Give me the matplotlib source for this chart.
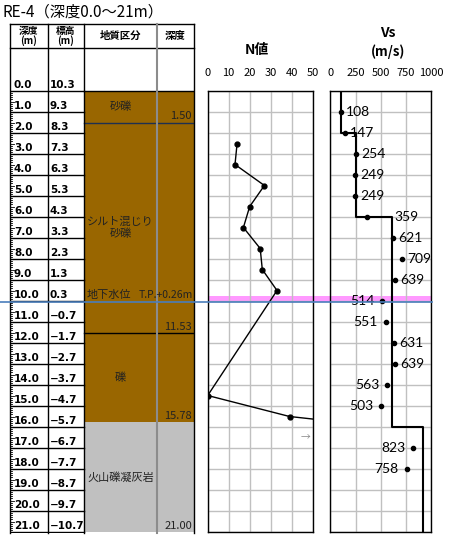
import numpy as np
import matplotlib.pyplot as plt
from matplotlib.patches import Rectangle
from matplotlib.lines import Line2D
from matplotlib.transforms import blended_transform_factory

plt.rcParams['font.family'] = ['Noto Sans CJK JP', 'DejaVu Sans']

# boring RE-4 : depth rows and ground elevation (T.P.)
depth_rows = np.arange(0, 22)
ground_elev = 10.3

# geology column
layer_names = ['砂礫', 'シルト混じり\n砂礫', '礫', '火山礫凝灰岩']
layer_top = [0.0, 1.50, 11.53, 15.78]
layer_bottom = [1.50, 11.53, 15.78, 21.00]
layer_colors = ['#996600', '#996600', '#996600', '#c0c0c0']
water_level = 0.26          # T.P.+0.26m
water_band = [9.75, 10.04]  # depth range shown in pink

# SPT N values (last one is over 50, off the scale)
n_depth = [2.5, 3.5, 4.5, 5.5, 6.5, 7.5, 8.5, 9.5, 14.5, 15.5, 16.5]
n_value = [14, 13, 27, 20, 17, 25, 26, 33, 0, 39, 130]

# PS logging Vs
vs_depth = [1, 2, 3, 4, 5, 6, 7, 8, 9, 10, 11, 12, 13, 14, 15, 17, 18]
vs_value = [108, 147, 254, 249, 249, 359, 621, 709, 639, 514, 551, 631, 639,
            563, 503, 823, 758]

# Vs model layers
vs_layer_top = [0, 2, 6, 16]
vs_layer_bottom = [2, 6, 16, 21]
vs_layer_value = [110, 250, 610, 920]

n_ticks = [0, 10, 20, 30, 40, 50]
vs_ticks = [0, 250, 500, 750, 1000]

W, H = 454, 536
fig = plt.figure(figsize=(W / 100, H / 100), dpi=100)

y0, ppm = 91.0, 21.0   # pixel row of depth 0, pixels per metre


def box(x0, ytop, x1, ybot):
    return [x0 / W, 1 - ybot / H, (x1 - x0) / W, (ybot - ytop) / H]


def dep(py):
    return (py - y0) / ppm


# ---------------- table (depth / elevation / geology) ----------------
tx0, tx1, tx2, tx3, tx4 = 10, 47.5, 84, 157, 194
ax = fig.add_axes(box(tx0, 24, tx4, 533))
ax.set_xlim(tx0, tx4)
ax.set_ylim(dep(533), dep(24))
ax.axis('off')

h_top, h_bot = dep(24), dep(48)

# geology fills
for top, bot, c in zip(layer_top, layer_bottom, layer_colors):
    ax.add_patch(Rectangle((tx2, top), tx4 - tx2, bot - top, fc=c, ec='none'))
for name, top, bot in zip(layer_names, layer_top, layer_bottom):
    ax.text((tx2 + tx3) / 2, (top + bot) / 2, name, ha='center', va='center',
            fontsize=8, color='#222222', linespacing=1.1)
    ax.text(tx4 - 2, bot - 0.06, f'{bot:.2f}', ha='right', va='bottom',
            fontsize=8, color='#222222')

# layer boundaries
ax.plot([tx2, tx4], [0, 0], color='black', lw=1)
ax.plot([tx2, tx4], [layer_top[1]] * 2, color='#1f3050', lw=1)
ax.plot([tx2, tx4], [layer_top[2]] * 2, color='black', lw=1)

# water level text
wl_depth = ground_elev - water_level
ax.text(tx2 + 3, wl_depth - 0.1, '地下水位', ha='left', va='bottom',
        fontsize=8, color='#222222')
ax.text(tx4 - 1, wl_depth - 0.1, 'T.P.+0.26m', ha='right', va='bottom',
        fontsize=7.5, color='#222222')

# header
for yy in (h_top, h_bot):
    ax.plot([tx0, tx4], [yy, yy], color='black', lw=1, clip_on=False)
hy = (h_top + h_bot) / 2
ax.text((tx0 + tx1) / 2, hy, '深度\n(m)', ha='center', va='center',
        fontsize=7, weight='bold', linespacing=1.0)
ax.text((tx1 + tx2) / 2, hy, '標高\n(m)', ha='center', va='center',
        fontsize=7, weight='bold', linespacing=1.0)
ax.text((tx2 + tx3) / 2, hy, '地質区分', ha='center', va='center',
        fontsize=7.5, weight='bold')
ax.text((tx3 + tx4) / 2, hy, '深度', ha='center', va='center',
        fontsize=7.5, weight='bold')

# column lines
ax.plot([tx0, tx0], [h_top, 21.05], color='black', lw=1, clip_on=False)
ax.plot([tx1, tx1], [h_top, 21.05], color='black', lw=1, clip_on=False)
ax.plot([tx2, tx2], [h_top, 21.05], color='black', lw=1, clip_on=False)
ax.plot([tx3, tx3], [h_top, 21.05], color='#8c8c8c', lw=1.5, clip_on=False)
ax.plot([tx4, tx4], [h_top, 21.05], color='black', lw=1, clip_on=False)

# depth rows
for d in depth_rows:
    ax.plot([tx0, tx2], [d, d], color='black', lw=1)
    ax.text(tx0 + 4, d - 0.05, f'{d:.1f}', ha='left', va='bottom',
            fontsize=7.5, weight='bold', family=['DejaVu Sans'])
    el = f'{ground_elev - d:.1f}'.replace('-', '\u2212')
    ax.text(tx1 + 2.5, d - 0.05, el, ha='left', va='bottom',
            fontsize=7.5, weight='bold', family=['DejaVu Sans'])

# scale ticks on the left edge
for t in np.arange(0, 21.01, 0.1):
    ln = 3.5 if abs(t * 2 - round(t * 2)) < 1e-6 else 2
    ax.plot([tx0, tx0 + ln], [t, t], color='black', lw=0.6)

# ---------------- N value ----------------
axn = fig.add_axes(box(207.7, y0, 312.7, y0 + 21 * ppm))
axn.set_facecolor('none')
axn.set_xlim(0, 50)
axn.set_ylim(21, 0)
axn.set_xticks(n_ticks)
axn.set_yticks(np.arange(0, 22))
axn.grid(True, color='#c0c0c0', lw=1)
axn.tick_params(top=True, labeltop=True, bottom=False, labelbottom=False,
                left=False, labelleft=False, length=0, pad=9, labelsize=8)
axn.plot(n_value, n_depth, color='black', lw=1, marker='o', ms=3.5)
axn.text(46.5, 16.5, '→', ha='center', va='center', fontsize=7, color='#888888')

# ---------------- Vs ----------------
axv = fig.add_axes(box(330.3, y0, 431.3, y0 + 21 * ppm))
axv.set_facecolor('none')
axv.set_xlim(0, 1000)
axv.set_ylim(21, 0)
axv.set_xticks(vs_ticks)
axv.set_yticks(np.arange(0, 22))
axv.grid(True, color='#c0c0c0', lw=1)
axv.tick_params(top=True, labeltop=True, bottom=False, labelbottom=False,
                left=False, labelleft=False, length=0, pad=9, labelsize=8)

step_x, step_y = [], []
for top, bot, v in zip(vs_layer_top, vs_layer_bottom, vs_layer_value):
    step_x += [v, v]
    step_y += [top, bot]
axv.plot(step_x, step_y, color='black', lw=1.5)
axv.plot(vs_value, vs_depth, 'o', color='black', ms=3)

left_labels = {10, 11, 14, 15, 17, 18}
for d, v in zip(vs_depth, vs_value):
    if d in left_labels:
        axv.annotate(str(v), (v, d), xytext=(-8, 0), textcoords='offset pixels',
                     ha='right', va='center', fontsize=10, family=['Lato'])
    else:
        dx = 28 if d == 6 else 5
        axv.annotate(str(v), (v, d), xytext=(dx, 0), textcoords='offset pixels',
                     ha='left', va='center', fontsize=10, family=['Lato'])

for a in (axn, axv):
    for s in a.spines.values():
        s.set_color('black')
        s.set_linewidth(1)

# water level: pink band behind both panels, blue line across everything
trans = blended_transform_factory(fig.transFigure, axn.transData)
fig.add_artist(Rectangle((207.7 / W, water_band[0]), (431.3 - 207.7) / W,
                         water_band[1] - water_band[0], transform=trans,
                         fc='#ff99ff', ec='none', zorder=-1))
fig.add_artist(Line2D([0, 432 / W], [wl_depth, wl_depth], transform=trans,
                      color='#4a7ebb', lw=1.2, zorder=5))

# titles
fig.text(2 / W, 1 - 12 / H, 'RE-4（深度0.0〜21m）', ha='left', va='center',
         fontsize=11)
fig.text(257 / W, 1 - 50 / H, 'N値', ha='center', va='center', fontsize=10,
         weight='bold')
fig.text(388 / W, 1 - 33 / H, 'Vs', ha='center', va='center', fontsize=10,
         weight='bold')
fig.text(388 / W, 1 - 52 / H, '(m/s)', ha='center', va='center', fontsize=9.5,
         weight='bold')

fig.savefig('out.png', dpi=100)
